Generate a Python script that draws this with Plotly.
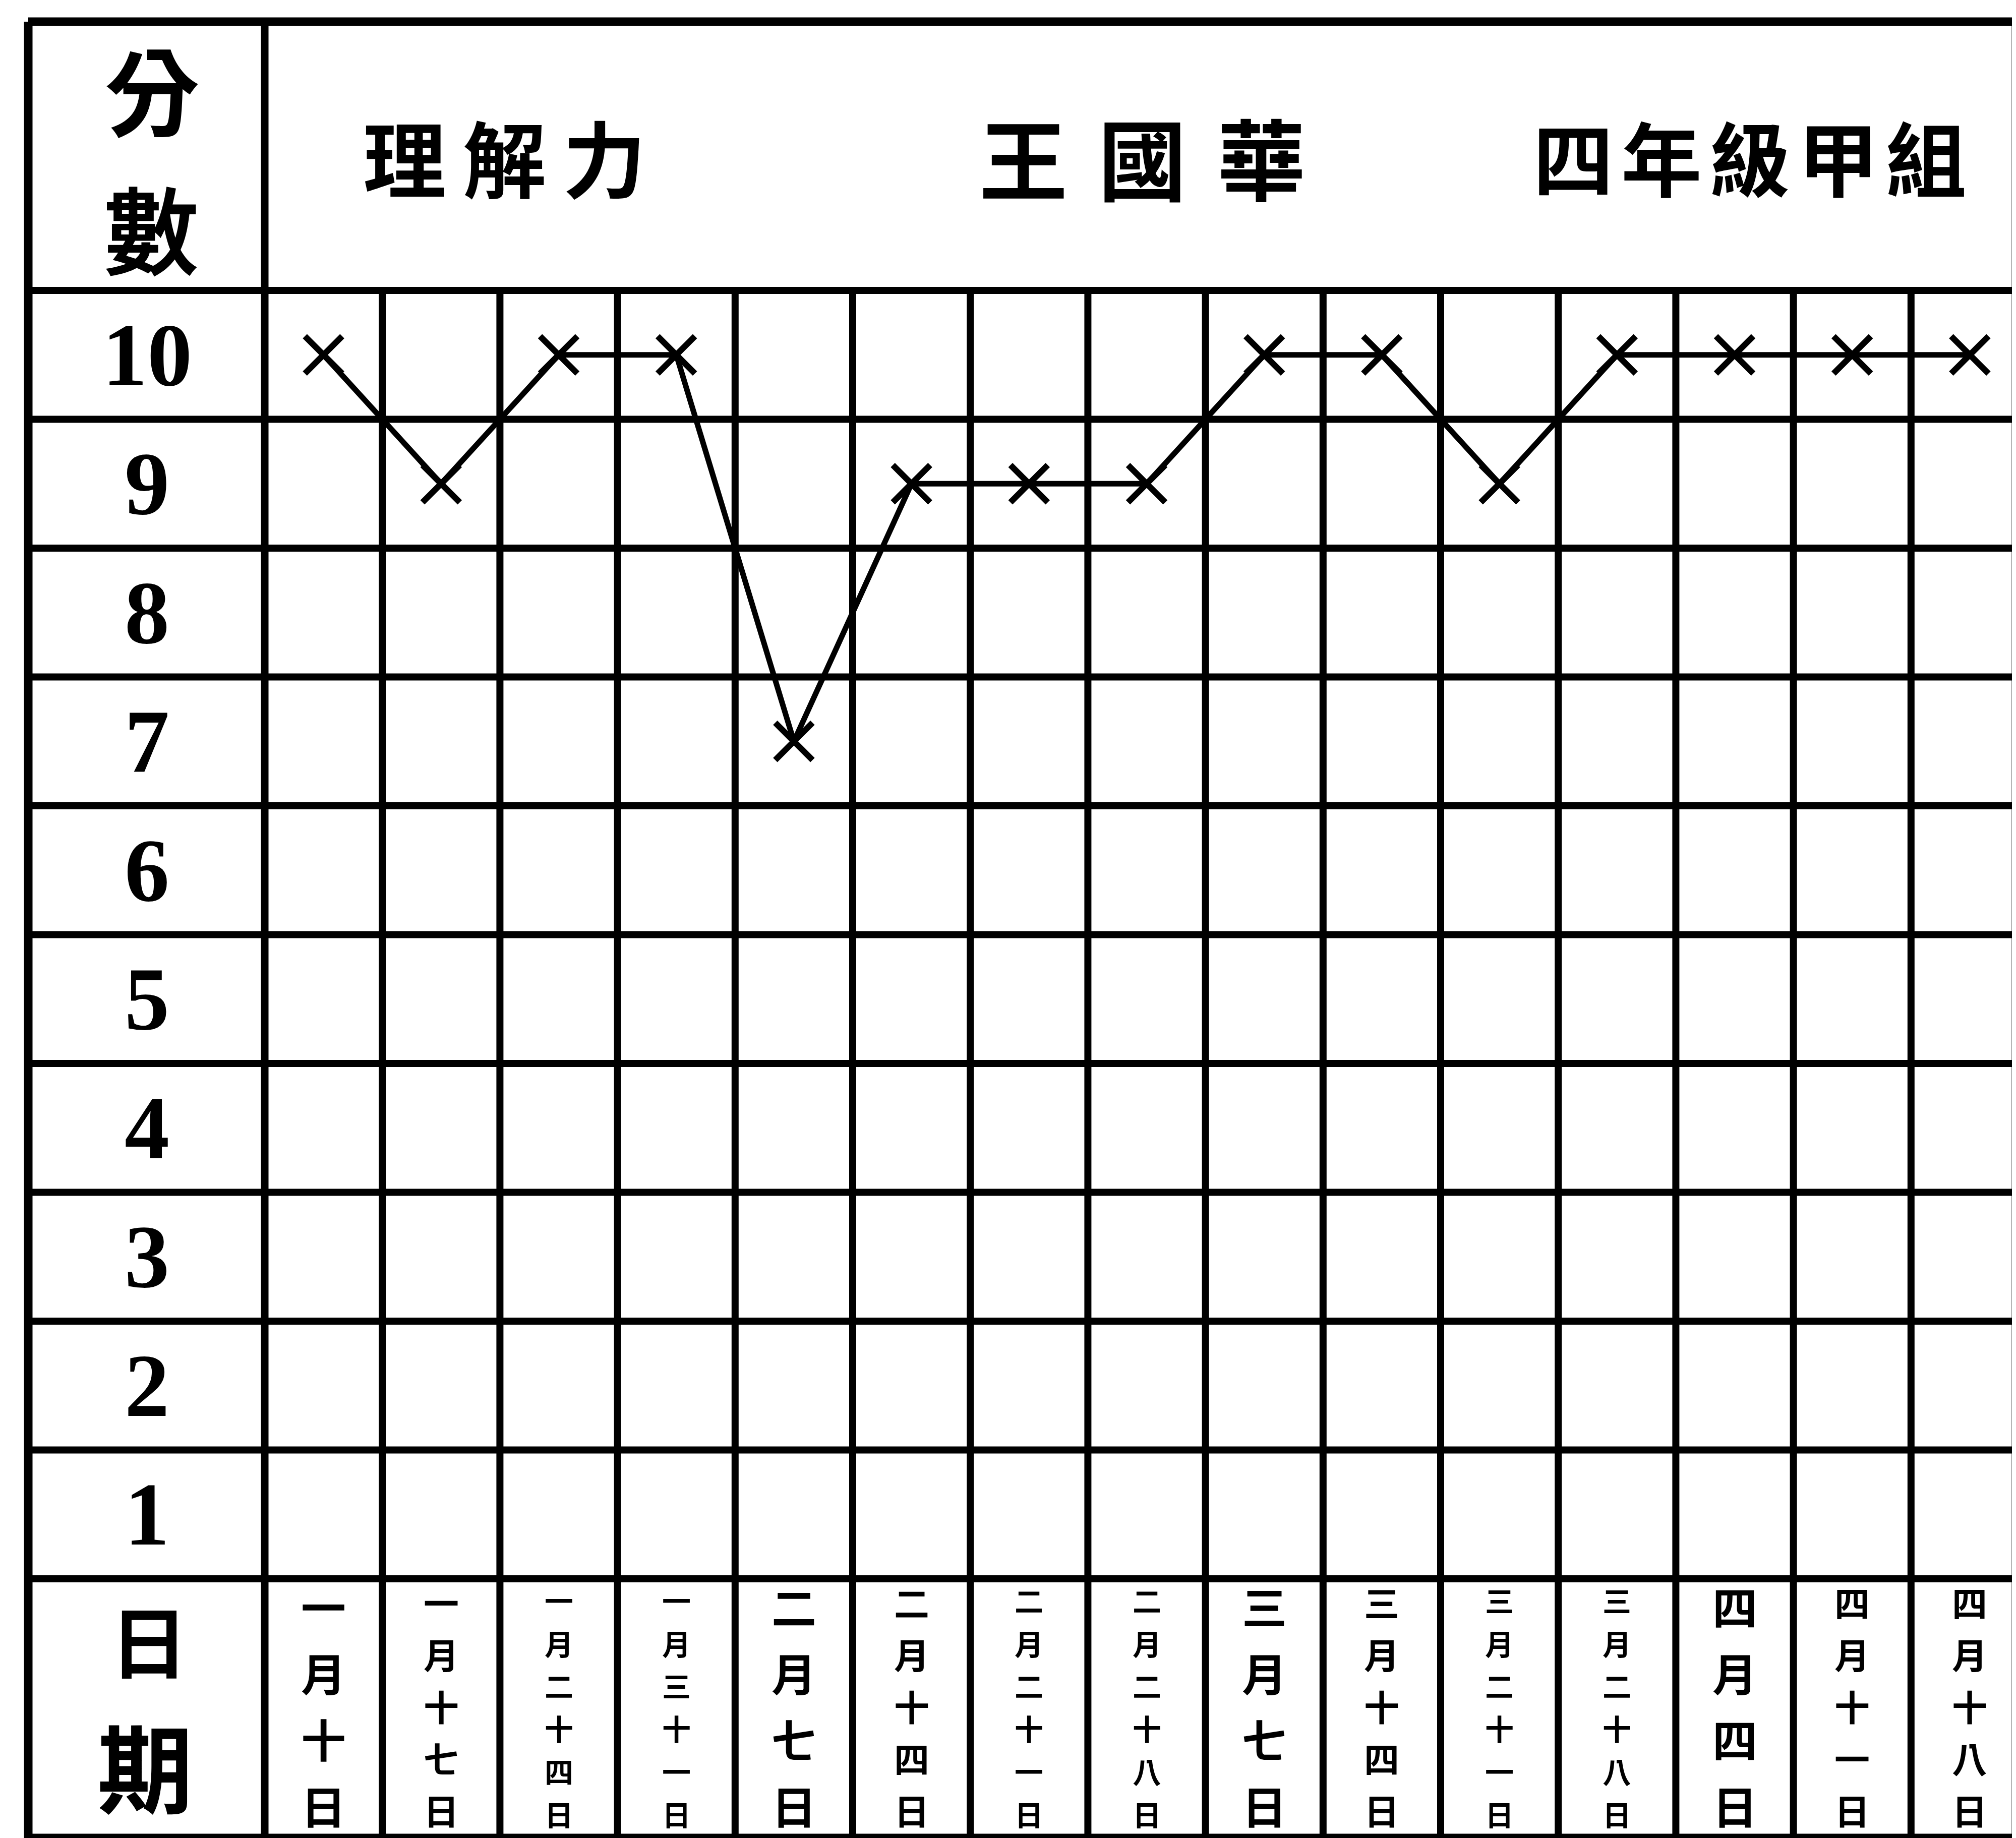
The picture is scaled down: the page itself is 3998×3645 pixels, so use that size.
import plotly.graph_objects as go

# ---------------- data ----------------
dates = ["一月十日", "一月十七日", "一月二十四日", "一月三十一日", "二月七日",
         "二月十四日", "二月二十一日", "二月二十八日", "三月七日", "三月十四日",
         "三月二十一日", "三月二十八日", "四月四日", "四月十一日", "四月十八日"]
scores = [10, 9, 10, 10, 7, 9, 9, 9, 10, 10, 9, 10, 10, 10, 10]
score_ticks = [10, 9, 8, 7, 6, 5, 4, 3, 2, 1]
title_subject = "理解力"
title_name = "王國華"
title_class = "四年級甲組"
head_score = "分數"
head_date = "日期"

# ---------------- geometry (pixel -> data helpers) ----------------
W, H = 3998, 3645
X0, UX = 517.0, 233.2     # pixel of x=-0.5, pixels per column
Y0, UY = 568.0, 255.5     # pixel of y=10.5, pixels per row


def xd(p):
    return -0.5 + (p - X0) / UX


def yd(p):
    return 10.5 - (p - Y0) / UY


XL, XR = xd(48), xd(3990)
YT, YB = yd(35), yd(3637)
BLACK = "#000000"
CJK = "Noto Sans CJK TC"
SERIF = "Liberation Serif"

fig = go.Figure()

fig.add_trace(go.Scatter(
    x=dates, y=scores, mode="lines+markers",
    line=dict(color=BLACK, width=11),
    marker=dict(symbol="x-thin", size=74, color=BLACK,
                line=dict(color=BLACK, width=12)),
    showlegend=False, hoverinfo="skip", cliponaxis=False,
))

shapes = []


def hline(y, x0, x1, w):
    shapes.append(dict(type="line", xref="x", yref="y", x0=x0, x1=x1, y0=y, y1=y,
                       line=dict(color=BLACK, width=w), layer="below"))


def vline(x, y0, y1, w):
    shapes.append(dict(type="line", xref="x", yref="y", x0=x, x1=x, y0=y0, y1=y1,
                       line=dict(color=BLACK, width=w), layer="below"))


n = len(dates)
for k in range(len(score_ticks) + 1):
    hline(10.5 - k, XL, XR, 14)
hline(YT, XL, XR, 17)
hline(YB, XL, XR, 17)
vline(XL, YB, YT, 17)
vline(XR, YB, YT, 17)
vline(-0.5, YB, YT, 15)
for i in range(n - 1):
    vline(i + 0.5, YB, 10.5, 14)

ann = []


def text(x, y, s, size, family=CJK, weight="bold"):
    ann.append(dict(x=x, y=y, xref="x", yref="y", text=s, showarrow=False,
                    xanchor="center", yanchor="middle", borderpad=0,
                    font=dict(family=family, size=size, color=BLACK, weight=weight)))


# header cells
text(xd(294), yd(165), head_score[0], 188)
text(xd(292), yd(440), head_score[1], 188)
text(xd(287), yd(3240), head_date[0], 155)
text(xd(280), yd(3490), head_date[1], 190)

# title row
for s, start, step, size in [(title_subject, 794, 198, 165),
                             (title_name, 2021, 236, 175),
                             (title_class, 3112, 175, 160)]:
    for j, ch in enumerate(s):
        text(xd(start + j * step), yd(300), ch, size)

# score labels
for v in score_ticks:
    text(-1.5, v, str(v), 178, family=SERIF)

# date labels, characters stacked vertically inside each date cell
CELL_TOP, CELL_BOT = 3142.0, 3620.0
for i, d in enumerate(dates):
    m = len(d)
    size = int((CELL_BOT - CELL_TOP) / (1.47 * (m - 1) + 0.94))
    top = CELL_TOP + 0.47 * size
    bottom = CELL_BOT - 0.47 * size
    for j, ch in enumerate(d):
        p = top + (bottom - top) * j / (m - 1) - 0.09 * size
        text(i, yd(p), ch, size)

fig.update_layout(
    width=W, height=H, autosize=False,
    margin=dict(l=0, r=0, t=0, b=0, pad=0),
    paper_bgcolor="white", plot_bgcolor="white",
    shapes=shapes, annotations=ann,
    xaxis=dict(type="category", categoryorder="array", categoryarray=dates,
               range=[xd(0), xd(W)], visible=False, showgrid=False, zeroline=False,
               fixedrange=True),
    yaxis=dict(range=[yd(H), yd(0)], visible=False, showgrid=False, zeroline=False,
               fixedrange=True),
)

fig.write_html("out.html")
